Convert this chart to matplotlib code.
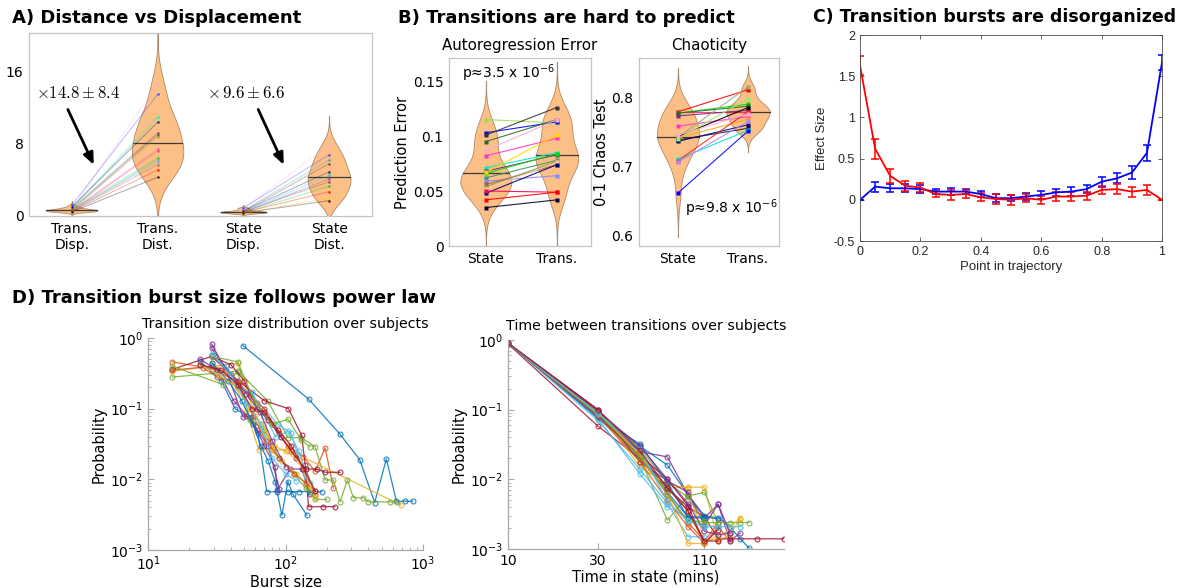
import numpy as np
import matplotlib.pyplot as plt
from matplotlib.ticker import LogLocator, NullFormatter, NullLocator

plt.rcParams['font.family'] = 'DejaVu Sans'
plt.rcParams['mathtext.fontset'] = 'dejavusans'

# ---- A) distance vs displacement (one entry per subject) ----
trans_disp = [0.7, 1.2, 0.9, 0.8, 1.0, 0.8, 0.7, 0.6, 0.6, 0.55, 0.65, 0.5, 0.6, 0.55, 0.5, 0.45]
trans_dist = [14.7, 13.5, 11.0, 10.8, 10.4, 9.2, 9.0, 8.8, 7.4, 7.2, 6.4, 6.2, 6.0, 5.7, 5.1, 4.3]
trans_cols = ['#ffaadd', '#3333ff', '#00e5cc', '#99ee66', '#000080', '#802080', '#336633', '#999933',
              '#ff33cc', '#ff3366', '#00cc00', '#33cccc', '#8888ff', '#996644', '#ff0000', '#000000']
state_disp = [0.8, 0.9, 0.6, 0.5, 0.55, 0.45, 0.4, 0.45, 0.35, 0.4, 0.3, 0.35]
state_dist = [7.9, 6.8, 6.2, 5.8, 4.9, 4.5, 4.1, 3.8, 3.3, 2.7, 2.0, 1.7]
state_cols = ['#ffaadd', '#3333ff', '#339999', '#663333', '#000080', '#00cccc', '#993399', '#663366',
              '#00cc00', '#ff0000', '#ffcc00', '#000000']
a_labels = ['Trans.\nDisp.', 'Trans.\nDist.', 'State\nDisp.', 'State\nDist.']

# ---- B) autoregression error and chaoticity ----
ar_state = [0.115, 0.103, 0.101, 0.095, 0.087, 0.082, 0.071, 0.068, 0.066, 0.067,
            0.062, 0.059, 0.056, 0.054, 0.052, 0.048, 0.050, 0.042, 0.035]
ar_trans = [0.112, 0.113, 0.126, 0.115, 0.115, 0.098, 0.085, 0.083, 0.084, 0.101,
            0.078, 0.064, 0.074, 0.077, 0.076, 0.074, 0.049, 0.049, 0.042]
ar_cols = ['#99dd55', '#0000ff', '#333333', '#336633', '#ffaadd', '#ff33cc', '#00e5cc', '#802080',
           '#00dd00', '#ffd700', '#339966', '#8888ff', '#996644', '#999966', '#ffcc99', '#000080',
           '#ff0055', '#ff0000', '#000033']
ch_state = [0.779, 0.779, 0.777, 0.777, 0.773, 0.758, 0.742, 0.743, 0.741, 0.738,
            0.736, 0.740, 0.710, 0.708, 0.706, 0.661, 0.745]
ch_trans = [0.811, 0.779, 0.790, 0.787, 0.781, 0.772, 0.815, 0.785, 0.768, 0.755,
            0.760, 0.798, 0.752, 0.779, 0.765, 0.751, 0.776]
ch_cols = ['#ff0000', '#ff3366', '#00dd00', '#336633', '#802080', '#ff33cc', '#99aa77', '#000000',
           '#ffaa00', '#222222', '#000080', '#99ee66', '#00e5cc', '#ff2020', '#aa88ff', '#0000ff', '#ffaadd']
b_labels = ['State', 'Trans.']

# ---- C) effect size along the trajectory ----
traj_pt = [0.0, 0.05, 0.1, 0.15, 0.2, 0.25, 0.3, 0.35, 0.4, 0.45, 0.5,
           0.55, 0.6, 0.65, 0.7, 0.75, 0.8, 0.85, 0.9, 0.95, 1.0]
red_mean = [1.63, 0.62, 0.29, 0.17, 0.15, 0.07, 0.06, 0.07, 0.03, 0.01, 0.0,
            0.02, 0.0, 0.04, 0.04, 0.05, 0.12, 0.13, 0.10, 0.12, 0.0]
red_err = [0.12, 0.12, 0.08, 0.06, 0.05, 0.04, 0.06, 0.05, 0.05, 0.06, 0.06,
           0.05, 0.05, 0.05, 0.055, 0.05, 0.05, 0.06, 0.06, 0.06, 0.0]
blue_mean = [0.0, 0.16, 0.14, 0.14, 0.13, 0.10, 0.10, 0.10, 0.07, 0.02, 0.02,
             0.04, 0.06, 0.09, 0.10, 0.13, 0.22, 0.26, 0.33, 0.57, 1.67]
blue_err = [0.0, 0.06, 0.05, 0.05, 0.045, 0.035, 0.04, 0.035, 0.035, 0.05, 0.04,
            0.04, 0.05, 0.045, 0.05, 0.05, 0.06, 0.06, 0.08, 0.1, 0.09]

# ---- D) burst size and time-in-state distributions per subject ----
burst_x = [
    [49, 147, 248, 346, 445, 541, 640, 735, 842],
    [15, 29, 45, 62, 80, 104, 135, 164, 194, 223],
    [15, 45, 60, 81, 105, 695],
    [29, 37, 49, 56, 70, 84, 87, 108, 131, 151],
    [15, 45, 74, 104, 130, 164, 194, 223, 249, 282, 311, 368, 400, 575, 644],
    [29, 37, 45, 56, 70, 88, 110, 140],
    [15, 29, 45, 70, 105, 131, 139, 147, 188, 229],
    [24, 34, 43, 55, 63, 73, 86, 105, 125, 150, 183],
    [15, 29, 40, 55, 70, 90, 110, 140, 165],
    [29, 40, 52, 64, 78, 95, 120, 165],
    [24, 32, 42, 52, 62, 75, 90],
    [15, 35, 45, 55, 70, 90, 115, 140, 165, 200],
    [24, 32, 45, 57, 70, 85, 105, 125, 150],
    [29, 40, 50, 62, 75, 92, 120, 140, 169, 194, 249],
    [29, 38, 48, 58, 66, 75, 84, 94, 104, 113, 143],
    [25, 32, 45, 58, 72, 90, 115, 140, 165],
    [24, 33, 44, 55, 68, 82, 100, 125, 165],
    [29, 40, 52, 65, 80, 100],
    [29, 45, 60, 80, 104, 130, 150],
    [29, 40, 52, 66, 80, 100, 120],
    [24, 34, 45, 57, 70, 88, 110, 135, 165],
]
burst_p = [
    [0.78, 0.137, 0.044, 0.019, 0.0047, 0.0195, 0.0049, 0.0049, 0.0049],
    [0.46, 0.37, 0.24, 0.12, 0.06, 0.03, 0.021, 0.013, 0.028, 0.0075],
    [0.34, 0.44, 0.08, 0.026, 0.026, 0.0043],
    [0.82, 0.35, 0.077, 0.077, 0.03, 0.015, 0.0071, 0.014, 0.014, 0.0063],
    [0.28, 0.34, 0.13, 0.039, 0.039, 0.029, 0.0098, 0.0098, 0.0048, 0.0098, 0.0055, 0.0055, 0.0048, 0.0048, 0.0048],
    [0.55, 0.4, 0.22, 0.16, 0.1, 0.06, 0.045, 0.0095],
    [0.36, 0.55, 0.25, 0.13, 0.1, 0.042, 0.016, 0.0041, 0.0041, 0.0041],
    [0.47, 0.25, 0.1, 0.075, 0.045, 0.0067, 0.0067, 0.0067, 0.0067, 0.0067, 0.0067],
    [0.35, 0.4, 0.3, 0.15, 0.1, 0.045, 0.025, 0.014, 0.006],
    [0.45, 0.3, 0.09, 0.026, 0.026, 0.018, 0.012, 0.006],
    [0.5, 0.35, 0.13, 0.08, 0.05, 0.03, 0.0072],
    [0.4, 0.22, 0.33, 0.07, 0.05, 0.02, 0.012, 0.0075, 0.0052, 0.0052],
    [0.43, 0.3, 0.2, 0.17, 0.08, 0.04, 0.048, 0.025, 0.0088],
    [0.55, 0.42, 0.25, 0.1, 0.07, 0.04, 0.02, 0.014, 0.014, 0.0126, 0.0126],
    [0.45, 0.25, 0.13, 0.06, 0.03, 0.018, 0.0093, 0.0031, 0.0093, 0.0062, 0.0031],
    [0.38, 0.28, 0.22, 0.08, 0.035, 0.02, 0.012, 0.009, 0.0068],
    [0.42, 0.3, 0.2, 0.1, 0.06, 0.03, 0.025, 0.018, 0.0055],
    [0.72, 0.3, 0.16, 0.09, 0.035, 0.015],
    [0.55, 0.46, 0.12, 0.06, 0.071, 0.036, 0.029],
    [0.6, 0.3, 0.12, 0.06, 0.02, 0.012, 0.0095],
    [0.42, 0.35, 0.22, 0.1, 0.09, 0.05, 0.03, 0.014, 0.0068],
]

dwell_x = [
    [10, 30, 50, 70, 90, 110, 130, 150, 170, 190],
    [10, 30, 50, 70, 90, 110, 130, 150],
    [10, 30, 50, 70, 90, 110, 130, 150, 170],
    [10, 30, 50, 70, 90, 110, 130, 150, 170],
    [10, 30, 50, 70, 90, 110, 130, 150, 170, 190],
    [10, 30, 50, 70, 90, 110, 130, 150, 170],
    [10, 30, 50, 70, 90, 110, 130, 150, 210, 290],
    [10, 30, 50, 70, 90, 110, 130],
    [10, 30, 50, 70, 90, 110, 130],
    [10, 30, 50, 70, 90, 110, 130, 170],
    [10, 30, 50, 70, 90, 110, 130, 150],
    [10, 30, 50, 70, 90, 110, 130],
    [10, 30, 50, 70, 90, 110],
    [10, 30, 50, 70, 90, 110, 130],
    [10, 30, 50, 70, 90, 110],
    [10, 30, 50, 70, 90, 110],
    [10, 30, 50, 70, 90, 110, 130],
    [10, 30, 50, 70, 90, 110, 130, 150],
    [10, 30, 50, 70, 90, 110],
    [10, 30, 50, 70, 90, 110, 130],
    [10, 30, 50, 70, 90, 110, 130],
]
dwell_p = [
    [0.9, 0.085, 0.03, 0.016, 0.006, 0.003, 0.0028, 0.0021, 0.0014, 0.00103],
    [0.9, 0.09, 0.02, 0.008, 0.0035, 0.0012, 0.0021, 0.0013],
    [0.9, 0.095, 0.018, 0.0075, 0.0077, 0.0077, 0.0013, 0.0016, 0.0027],
    [0.9, 0.09, 0.025, 0.021, 0.006, 0.0028, 0.0044, 0.0013, 0.0017],
    [0.9, 0.085, 0.02, 0.0026, 0.0058, 0.0065, 0.0024, 0.0024, 0.0024, 0.0024],
    [0.9, 0.075, 0.012, 0.004, 0.0029, 0.0021, 0.0021, 0.0021, 0.0021],
    [0.88, 0.058, 0.02, 0.0075, 0.004, 0.0029, 0.0014, 0.0014, 0.0014, 0.0014],
    [0.92, 0.075, 0.025, 0.0065, 0.0029, 0.0029, 0.0027],
    [0.9, 0.095, 0.022, 0.006, 0.0024, 0.0013, 0.0024],
    [0.9, 0.1, 0.015, 0.0085, 0.0075, 0.0013, 0.0014, 0.0028],
    [0.91, 0.1, 0.018, 0.0095, 0.0065, 0.0022, 0.0044, 0.0017],
    [0.9, 0.09, 0.028, 0.009, 0.0055, 0.0024, 0.0024],
    [0.9, 0.07, 0.014, 0.0045, 0.0015, 0.0015],
    [0.9, 0.08, 0.022, 0.01, 0.0042, 0.0012, 0.0019],
    [0.9, 0.08, 0.032, 0.009, 0.0028, 0.0028],
    [0.9, 0.08, 0.018, 0.005, 0.0021, 0.0012],
    [0.9, 0.09, 0.023, 0.0062, 0.0012, 0.0012, 0.0016],
    [0.9, 0.095, 0.03, 0.01, 0.0045, 0.0018, 0.0016, 0.0017],
    [0.9, 0.09, 0.021, 0.0062, 0.0025, 0.0025],
    [0.9, 0.088, 0.027, 0.0048, 0.0025, 0.0021, 0.0021],
    [0.9, 0.1, 0.026, 0.0075, 0.0035, 0.0013, 0.0013],
]
mat_cols = ['#0072bd', '#d95319', '#edb120', '#7e2f8e', '#77ac30', '#4dbeee', '#a2142f']

VIOLIN_FACE = '#fcc086'
VIOLIN_EDGE = '#b08866'
BOX_GRAY = '#c4c4c4'


def violin(ax, pos, vals, bw, hw):
    """Gaussian kernel density outline with a median bar."""
    vals = np.asarray(vals, dtype=float)
    grid = np.linspace(vals.min() - 3.2 * bw, vals.max() + 3.2 * bw, 400)
    dens = np.exp(-0.5 * ((grid[None, :] - vals[:, None]) / bw) ** 2).sum(axis=0)
    dens /= dens.max()
    ax.plot([pos, pos], [grid[0], grid[-1]], color='#9a9a9a', lw=0.8, zorder=1)
    ax.fill_betweenx(grid, pos - dens * hw, pos + dens * hw, facecolor=VIOLIN_FACE,
                     edgecolor=VIOLIN_EDGE, lw=0.6, zorder=2)
    med = np.median(vals)
    dm = np.interp(med, grid, dens) * hw
    ax.plot([pos - dm, pos + dm], [med, med], color='#3a3a3a', lw=0.9, zorder=3)


def paired(ax, x0, x1, a, b, cols, alpha, ms=2.5):
    for ya, yb, c in zip(a, b, cols):
        ax.plot([x0, x1], [ya, yb], color=c, lw=0.8, alpha=alpha, zorder=4)
        ax.plot([x0, x1], [ya, yb], 's', color=c, ms=ms, mec='none', zorder=5)


def boxed(ax):
    for s in ax.spines.values():
        s.set_color(BOX_GRAY)
        s.set_linewidth(0.9)
    ax.tick_params(length=0, labelsize=10, pad=4)


fig = plt.figure(figsize=(11.91, 5.88), dpi=100)

# A
axA = fig.add_axes([0.0243, 0.6327, 0.288, 0.311])
violin(axA, 1, trans_disp, 0.13, 0.3)
violin(axA, 2, trans_dist, 1.9, 0.3)
violin(axA, 3, state_disp, 0.1, 0.27)
violin(axA, 4, state_dist, 1.0, 0.25)
paired(axA, 1, 2, trans_disp, trans_dist, trans_cols, 0.3, ms=2)
paired(axA, 3, 4, state_disp, state_dist, state_cols, 0.3, ms=2)
axA.set_xlim(0.5, 4.5)
axA.set_ylim(0, 20.3)
axA.set_yticks([0, 8, 16])
axA.set_xticks([1, 2, 3, 4])
axA.set_xticklabels(a_labels)
boxed(axA)
axA.text(0.58, 13.7, r'$\times 14.8 \pm 8.4$', math_fontfamily='cm', fontsize=12, va='center')
axA.text(2.58, 13.7, r'$\times\, 9.6 \pm 6.6$', math_fontfamily='cm', fontsize=12, va='center')
arrow = dict(arrowstyle='-|>,head_length=0.7,head_width=0.3', color='black', lw=2)
axA.annotate('', xy=(1.27, 5.4), xytext=(0.94, 12.1), arrowprops=arrow)
axA.annotate('', xy=(3.485, 5.4), xytext=(3.16, 12.1), arrowprops=arrow)

# B, autoregression
axB1 = fig.add_axes([0.377, 0.5816, 0.1192, 0.3197])
violin(axB1, 1, ar_state, 0.011, 0.36)
violin(axB1, 2, ar_trans, 0.013, 0.3)
paired(axB1, 1, 2, ar_state, ar_trans, ar_cols, 0.9)
axB1.set_xlim(0.48, 2.48)
axB1.set_ylim(0, 0.171)
axB1.set_yticks([0, 0.05, 0.1, 0.15])
axB1.set_yticklabels(['0', '0.05', '0.1', '0.15'])
axB1.set_xticks([1, 2])
axB1.set_xticklabels(b_labels)
boxed(axB1)
axB1.set_ylabel('Prediction Error', fontsize=10.5, labelpad=2)
axB1.set_title('Autoregression Error', fontsize=10.8, pad=6)
axB1.text(0.09, 0.92, 'p≈3.5 x 10$^{-6}$', transform=axB1.transAxes, fontsize=10, va='center')

# B, chaoticity
axB2 = fig.add_axes([0.5365, 0.5816, 0.1176, 0.3197])
violin(axB2, 1, ch_state, 0.02, 0.3)
violin(axB2, 2, ch_trans, 0.0095, 0.31)
paired(axB2, 1, 2, ch_state, ch_trans, ch_cols, 0.9)
axB2.set_xlim(0.443, 2.443)
axB2.set_ylim(0.584, 0.857)
axB2.set_yticks([0.6, 0.7, 0.8])
axB2.set_yticklabels(['0.6', '0.7', '0.8'])
axB2.set_xticks([1, 2])
axB2.set_xticklabels(b_labels)
boxed(axB2)
axB2.set_ylabel('0-1 Chaos Test', fontsize=10.5, labelpad=2)
axB2.set_title('Chaoticity', fontsize=10.8, pad=6)
axB2.text(0.33, 0.2, 'p≈9.8 x 10$^{-6}$', transform=axB2.transAxes, fontsize=10, va='center')

# C
axC = fig.add_axes([0.7221, 0.5901, 0.2536, 0.3503])
for mean, err, c in [(blue_mean, blue_err, '#0000ff'), (red_mean, red_err, '#ff0000')]:
    axC.errorbar(traj_pt, mean, yerr=err, color=c, lw=1.3, capsize=3, capthick=1.1, elinewidth=1.1)
axC.set_xlim(0, 1)
axC.set_ylim(-0.5, 2)
axC.set_xticks([0, 0.2, 0.4, 0.6, 0.8, 1])
axC.set_xticklabels(['0', '0.2', '0.4', '0.6', '0.8', '1'])
axC.set_yticks([-0.5, 0, 0.5, 1, 1.5, 2])
axC.set_yticklabels(['-0.5', '0', '0.5', '1', '1.5', '2'])
for s in axC.spines.values():
    s.set_color('#4a4a4a')
    s.set_linewidth(0.6)
axC.tick_params(direction='in', top=True, right=True, length=3, width=0.6,
                color='#4a4a4a', labelcolor='#262626', labelsize=9)
for lab in axC.get_xticklabels() + axC.get_yticklabels():
    lab.set_fontfamily('Liberation Sans')
axC.set_xlabel('Point in trajectory', fontsize=9.5, family='Liberation Sans', color='#262626', labelpad=2)
axC.set_ylabel('Effect Size', fontsize=9.5, family='Liberation Sans', color='#262626', labelpad=4)


def log_axes(ax):
    for side in ['top', 'right']:
        ax.spines[side].set_visible(False)
    for side in ['left', 'bottom']:
        ax.spines[side].set_color('#a8a8a8')
        ax.spines[side].set_linewidth(0.9)
    ax.set_yscale('log')
    ax.set_ylim(1e-3, 1)
    ax.set_yticks([1e-3, 1e-2, 1e-1, 1])
    ax.yaxis.set_minor_locator(LogLocator(subs=np.arange(2, 10)))
    ax.yaxis.set_minor_formatter(NullFormatter())
    ax.tick_params(which='both', direction='in', color='#a8a8a8', labelsize=10)
    ax.tick_params(which='major', length=4)
    ax.tick_params(which='minor', length=2)


# D, burst size
axD1 = fig.add_axes([0.1243, 0.0646, 0.2309, 0.3605])
for i, (xs, ps) in enumerate(zip(burst_x, burst_p)):
    axD1.plot(xs, ps, '-o', color=mat_cols[i % 7], lw=0.9, ms=3.5, mfc='none', mew=0.8, alpha=0.85)
log_axes(axD1)
axD1.set_xscale('log')
axD1.set_xlim(10, 1000)
axD1.set_xticks([10, 100, 1000])
axD1.xaxis.set_minor_locator(LogLocator(subs=np.arange(2, 10)))
axD1.xaxis.set_minor_formatter(NullFormatter())
axD1.tick_params(which='both', direction='in', color='#a8a8a8')
axD1.set_title('Transition size distribution over subjects', fontsize=10.2, pad=7)
axD1.set_xlabel('Burst size', fontsize=10.5, labelpad=1)
axD1.set_ylabel('Probability', fontsize=10.5, labelpad=2)

# D, time in state
axD2 = fig.add_axes([0.4265, 0.0663, 0.2317, 0.3554])
for i, (xs, ps) in enumerate(zip(dwell_x, dwell_p)):
    axD2.plot(xs, ps, '-o', color=mat_cols[i % 7], lw=0.9, ms=3.5, mfc='none', mew=0.8, alpha=0.85)
log_axes(axD2)
axD2.set_xscale('log')
axD2.set_xlim(10, 290)
axD2.set_xticks([10, 30, 110])
axD2.set_xticklabels(['10', '30', '110'])
axD2.xaxis.set_minor_locator(NullLocator())
axD2.set_title('Time between transitions over subjects', fontsize=10.2, pad=7)
axD2.set_xlabel('Time in state (mins)', fontsize=10.5, labelpad=1)
axD2.set_ylabel('Probability', fontsize=10.5, labelpad=2)

# panel headings
head = dict(fontsize=13, fontweight='bold', va='center', ha='left')
fig.text(12 / 1191, 1 - 18 / 588, 'A) Distance vs Displacement', **head)
fig.text(398 / 1191, 1 - 18 / 588, 'B) Transitions are hard to predict', **head)
fig.text(813 / 1191, 1 - 17 / 588, 'C) Transition bursts are disorganized', fontsize=12.5,
         fontweight='bold', va='center', ha='left')
fig.text(12 / 1191, 1 - 298 / 588, 'D) Transition burst size follows power law', **head)

fig.savefig('out.png', dpi=100)
